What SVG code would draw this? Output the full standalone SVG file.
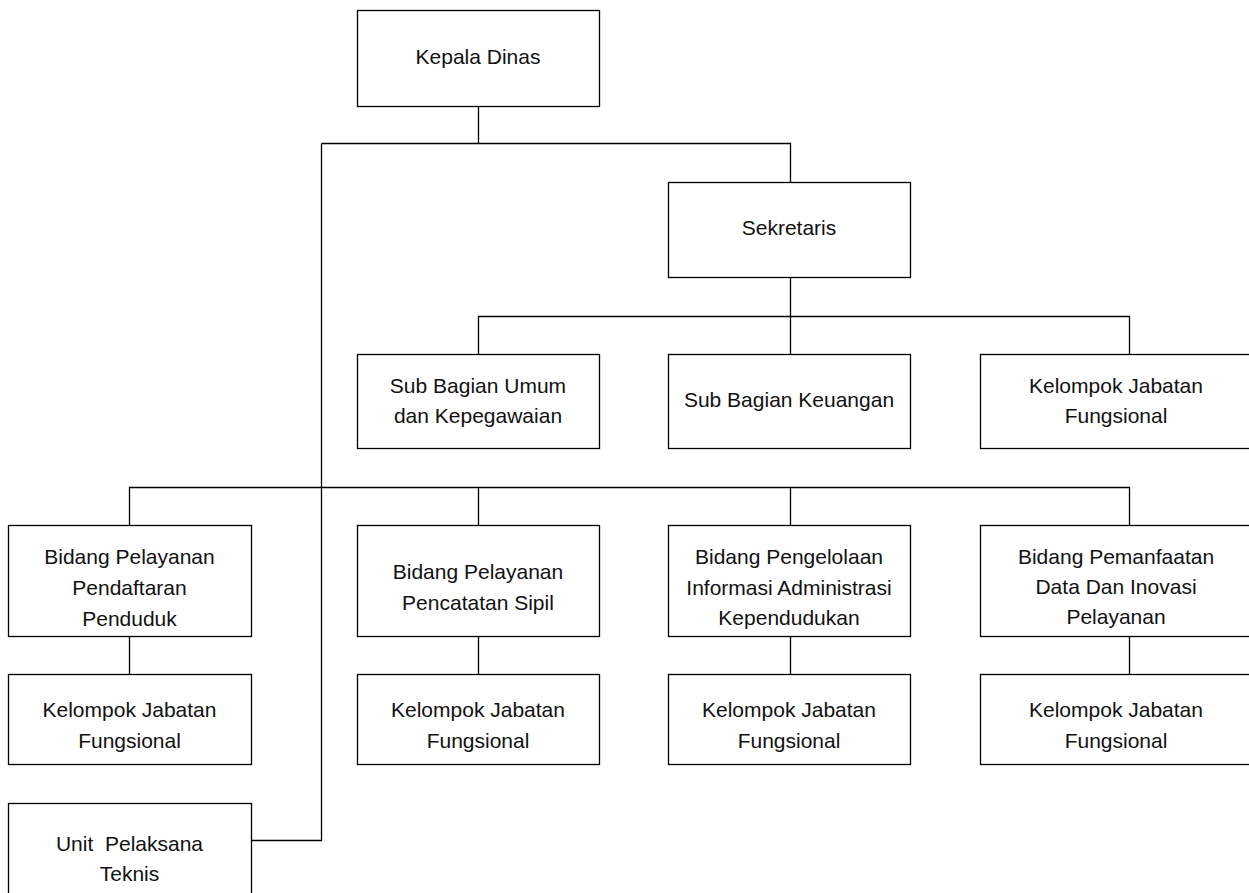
<svg xmlns="http://www.w3.org/2000/svg" width="1249" height="893" viewBox="0 0 1249 893">
<style>
.box{fill:#fff;stroke:#000;stroke-width:1.3}
.conn{fill:none;stroke:#000;stroke-width:1.3}
text{font-family:"Liberation Sans",Arial,sans-serif;font-size:21px;fill:#111;text-anchor:middle}
</style>
<rect width="1249" height="893" fill="#fff"/>
<g id="connectors" class="conn">
<path d="M478.5 106.5V143.5"/>
<path d="M321.5 143.5H790.5V182.5"/>
<path d="M790.5 277.5V354.5"/>
<path d="M478.5 354.5V316.5H1129.5V354.5"/>
<path d="M129.5 525.5V487.5H1129.5V525.5"/>
<path d="M478.5 487.5V525.5"/>
<path d="M790.5 487.5V525.5"/>
<path d="M321.5 143.5V840.5H251.5"/>
<path d="M129.5 636.5V674.5"/>
<path d="M478.5 636.5V674.5"/>
<path d="M790.5 636.5V674.5"/>
<path d="M1129.5 636.5V674.5"/>
</g>
<g id="kepala-dinas"><rect class="box" x="357.5" y="10.5" width="242" height="96"/><text x="478" y="64">Kepala Dinas</text></g>
<g id="sekretaris"><rect class="box" x="668.5" y="182.5" width="242" height="95"/><text x="789" y="235">Sekretaris</text></g>
<g id="sub-umum"><rect class="box" x="357.5" y="354.5" width="242" height="94"/><text x="478" y="393">Sub Bagian Umum</text><text x="478" y="423">dan Kepegawaian</text></g>
<g id="sub-keuangan"><rect class="box" x="668.5" y="354.5" width="242" height="94"/><text x="789" y="407">Sub Bagian Keuangan</text></g>
<g id="kjf-sekretariat"><rect class="box" x="980.5" y="354.5" width="300" height="94"/><text x="1116" y="393">Kelompok Jabatan</text><text x="1116" y="423">Fungsional</text></g>
<g id="bidang-pendaftaran"><rect class="box" x="8.5" y="525.5" width="243" height="111"/><text x="129.5" y="564">Bidang Pelayanan</text><text x="129.5" y="595">Pendaftaran</text><text x="129.5" y="626">Penduduk</text></g>
<g id="bidang-pencatatan"><rect class="box" x="357.5" y="525.5" width="242" height="111"/><text x="478" y="579">Bidang Pelayanan</text><text x="478" y="610">Pencatatan Sipil</text></g>
<g id="bidang-pengelolaan"><rect class="box" x="668.5" y="525.5" width="242" height="111"/><text x="789" y="564">Bidang Pengelolaan</text><text x="789" y="595">Informasi Administrasi</text><text x="789" y="625">Kependudukan</text></g>
<g id="bidang-pemanfaatan"><rect class="box" x="980.5" y="525.5" width="300" height="111"/><text x="1116" y="564">Bidang Pemanfaatan</text><text x="1116" y="594">Data Dan Inovasi</text><text x="1116" y="624">Pelayanan</text></g>
<g id="kjf-1"><rect class="box" x="8.5" y="674.5" width="243" height="90"/><text x="129.5" y="717">Kelompok Jabatan</text><text x="129.5" y="748">Fungsional</text></g>
<g id="kjf-2"><rect class="box" x="357.5" y="674.5" width="242" height="90"/><text x="478" y="717">Kelompok Jabatan</text><text x="478" y="748">Fungsional</text></g>
<g id="kjf-3"><rect class="box" x="668.5" y="674.5" width="242" height="90"/><text x="789" y="717">Kelompok Jabatan</text><text x="789" y="748">Fungsional</text></g>
<g id="kjf-4"><rect class="box" x="980.5" y="674.5" width="300" height="90"/><text x="1116" y="717">Kelompok Jabatan</text><text x="1116" y="748">Fungsional</text></g>
<g id="upt"><rect class="box" x="8.5" y="803.5" width="243" height="120"/><text x="129.5" y="851" style="white-space:pre">Unit  Pelaksana</text><text x="129.5" y="881">Teknis</text></g>
</svg>
